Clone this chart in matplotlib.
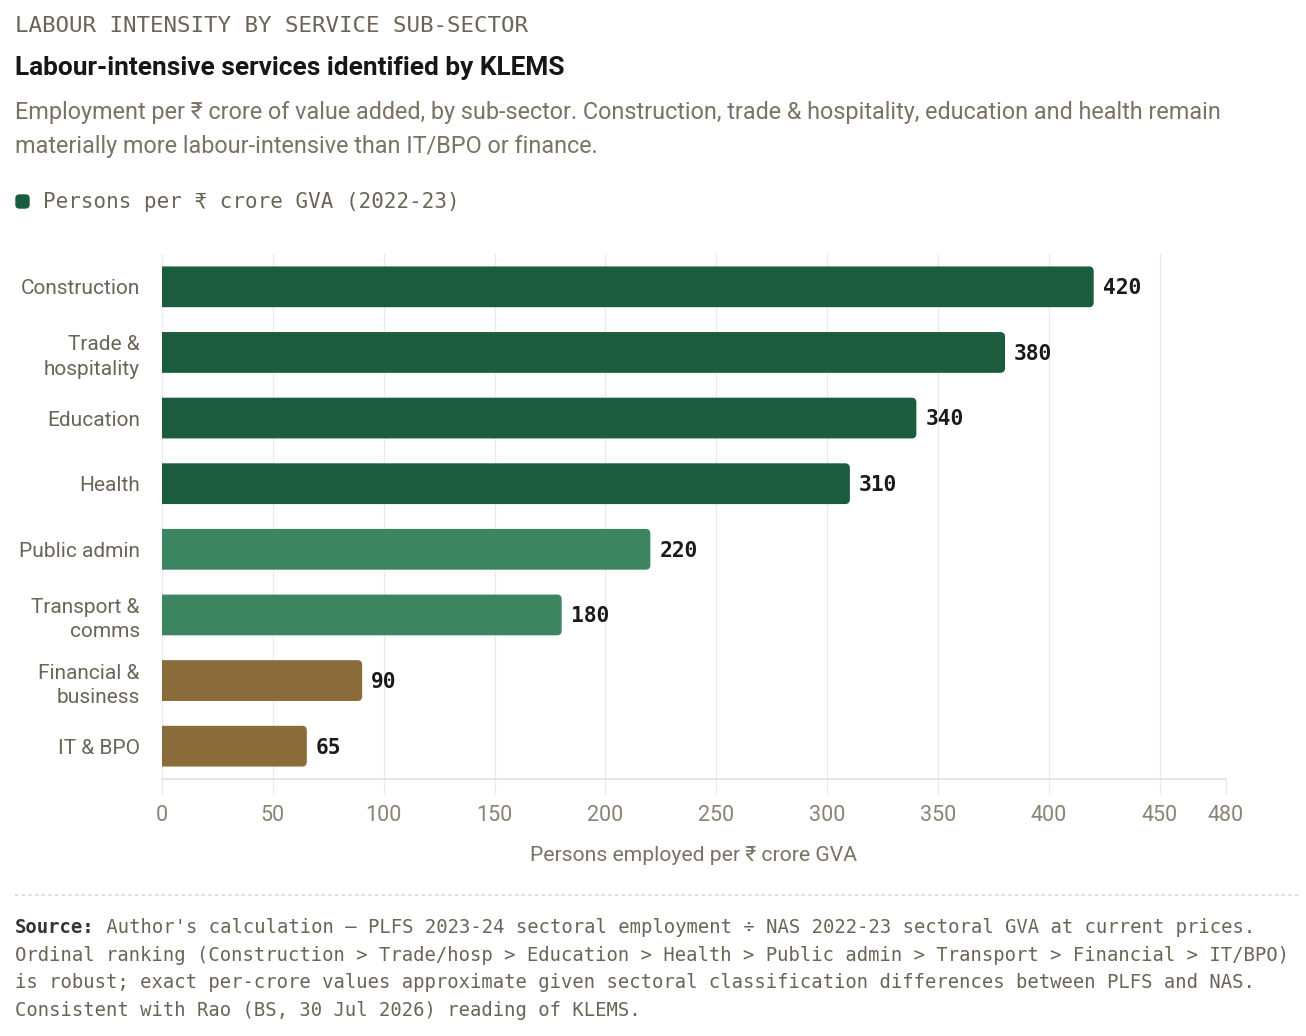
import matplotlib.pyplot as plt
from matplotlib.patches import FancyBboxPatch
from matplotlib.lines import Line2D

W, H = 1306, 1036

# data
sectors = ["Construction", "Trade &\nhospitality", "Education", "Health",
           "Public admin", "Transport &\ncomms", "Financial &\nbusiness", "IT & BPO"]
persons = [420, 380, 340, 310, 220, 180, 90, 65]
groups = ["high", "high", "high", "high", "mid", "mid", "low", "low"]
xticks = [0, 50, 100, 150, 200, 250, 300, 350, 400, 450, 480]

colors = {"high": "#1c5c3e", "mid": "#3d8560", "low": "#8a6b3a"}
SANS = ["Roboto", "DejaVu Sans"]
MONO = ["DejaVu Sans Mono"]
GREY = "#6b6557"
GRID = "#ebebeb"


def fx(px):
    return px / W


def fy(py):
    return 1 - py / H


fig = plt.figure(figsize=(W / 100, H / 100), dpi=100)
fig.patch.set_facecolor("white")

# header
fig.text(fx(15), fy(26), "LABOUR INTENSITY BY SERVICE SUB-SECTOR", family=MONO,
         fontsize=16.2, color=GREY, va="center")
fig.text(fx(15), fy(68), "Labour-intensive services identified by KLEMS", family=SANS,
         fontsize=18.9, weight="semibold", color="#161616", va="center")
fig.text(fx(15), fy(113), "Employment per ₹ crore of value added, by sub-sector. Construction, "
         "trade & hospitality, education and health remain", family=SANS,
         fontsize=16.8, color="#7a7263", va="center")
fig.text(fx(15), fy(147), "materially more labour-intensive than IT/BPO or finance.", family=SANS,
         fontsize=16.8, color="#7a7263", va="center")

# legend
fig.patches.append(FancyBboxPatch((fx(16), fy(208)), fx(13), 13 / H,
                                  boxstyle="round,pad=0,rounding_size=0.003",
                                  transform=fig.transFigure, color=colors["high"]))
fig.text(fx(43), fy(202), "Persons per ₹ crore GVA (2022-23)", family=MONO,
         fontsize=15, color=GREY, va="center")

# plot
ax = fig.add_axes([fx(162), fy(779), fx(1226) - fx(162), (779 - 254) / H])
bars = ax.barh(range(len(sectors)), persons, height=0.6,
               color=[colors[g] for g in groups])

ax.set_xlim(0, 480)
ax.set_ylim(len(sectors) - 0.5, -0.5)

# rounded right corners: swap each bar for a rounded box that starts left of 0 (clipped)
r = 1.8
for b in bars:
    x, y, w, h = b.get_x(), b.get_y(), b.get_width(), b.get_height()
    box = FancyBboxPatch((x - r * 2, y), w + r * 2, h,
                         boxstyle=f"round,pad=0,rounding_size={r}",
                         mutation_aspect=0.0337, color=b.get_facecolor(), zorder=3)
    ax.add_patch(box)
    b.set_visible(False)

for i, v in enumerate(persons):
    ax.annotate(str(v), (v, i), xytext=(7, -1), textcoords="offset points",
                va="center", ha="left", family=MONO, weight="bold",
                fontsize=15.3, color="#1a1a1a")

ax.set_yticks(range(len(sectors)))
ax.set_yticklabels(sectors, family=SANS, fontsize=15, color=GREY, linespacing=1.36)
ax.tick_params(axis="y", length=0, pad=16)

ax.set_xticks(xticks)
ax.set_xticklabels([str(t) for t in xticks], family=SANS, fontsize=15.5, color="#8a8273")
ax.tick_params(axis="x", length=11, color=GRID, width=1, pad=8)
ax.grid(axis="x", color=GRID, linewidth=1, zorder=0)
ax.set_axisbelow(True)

for s in ["top", "right", "left"]:
    ax.spines[s].set_visible(False)
ax.spines["bottom"].set_color("#e3e3e3")
ax.spines["bottom"].set_linewidth(1.3)

ax.set_xlabel("Persons employed per ₹ crore GVA", family=SANS, fontsize=15.2,
              color="#7a7263", labelpad=14)

# separator
fig.add_artist(Line2D([fx(15), fx(1300)], [fy(895), fy(895)], transform=fig.transFigure,
                      color="#d8d8d8", linewidth=1.2, linestyle=(0, (2, 2))))

# source note
src = fig.text(fx(15), fy(933), "Source:", family=MONO, weight="bold", fontsize=13.6,
               color="#333333", va="baseline")
ax.annotate(" Author's calculation — PLFS 2023-24 sectoral employment ÷ NAS 2022-23 "
            "sectoral GVA at current prices.", xy=(1, 0), xycoords=src,
            family=MONO, fontsize=13.6, color=GREY, va="bottom", ha="left",
            annotation_clip=False)
notes = ["Ordinal ranking (Construction > Trade/hosp > Education > Health > Public admin "
         "> Transport > Financial > IT/BPO)",
         "is robust; exact per-crore values approximate given sectoral classification "
         "differences between PLFS and NAS.",
         "Consistent with Rao (BS, 30 Jul 2026) reading of KLEMS."]
for k, line in enumerate(notes):
    fig.text(fx(15), fy(933 + 27.7 * (k + 1)), line, family=MONO, fontsize=13.6,
             color=GREY, va="baseline")

fig.savefig("out.png", dpi=100)
